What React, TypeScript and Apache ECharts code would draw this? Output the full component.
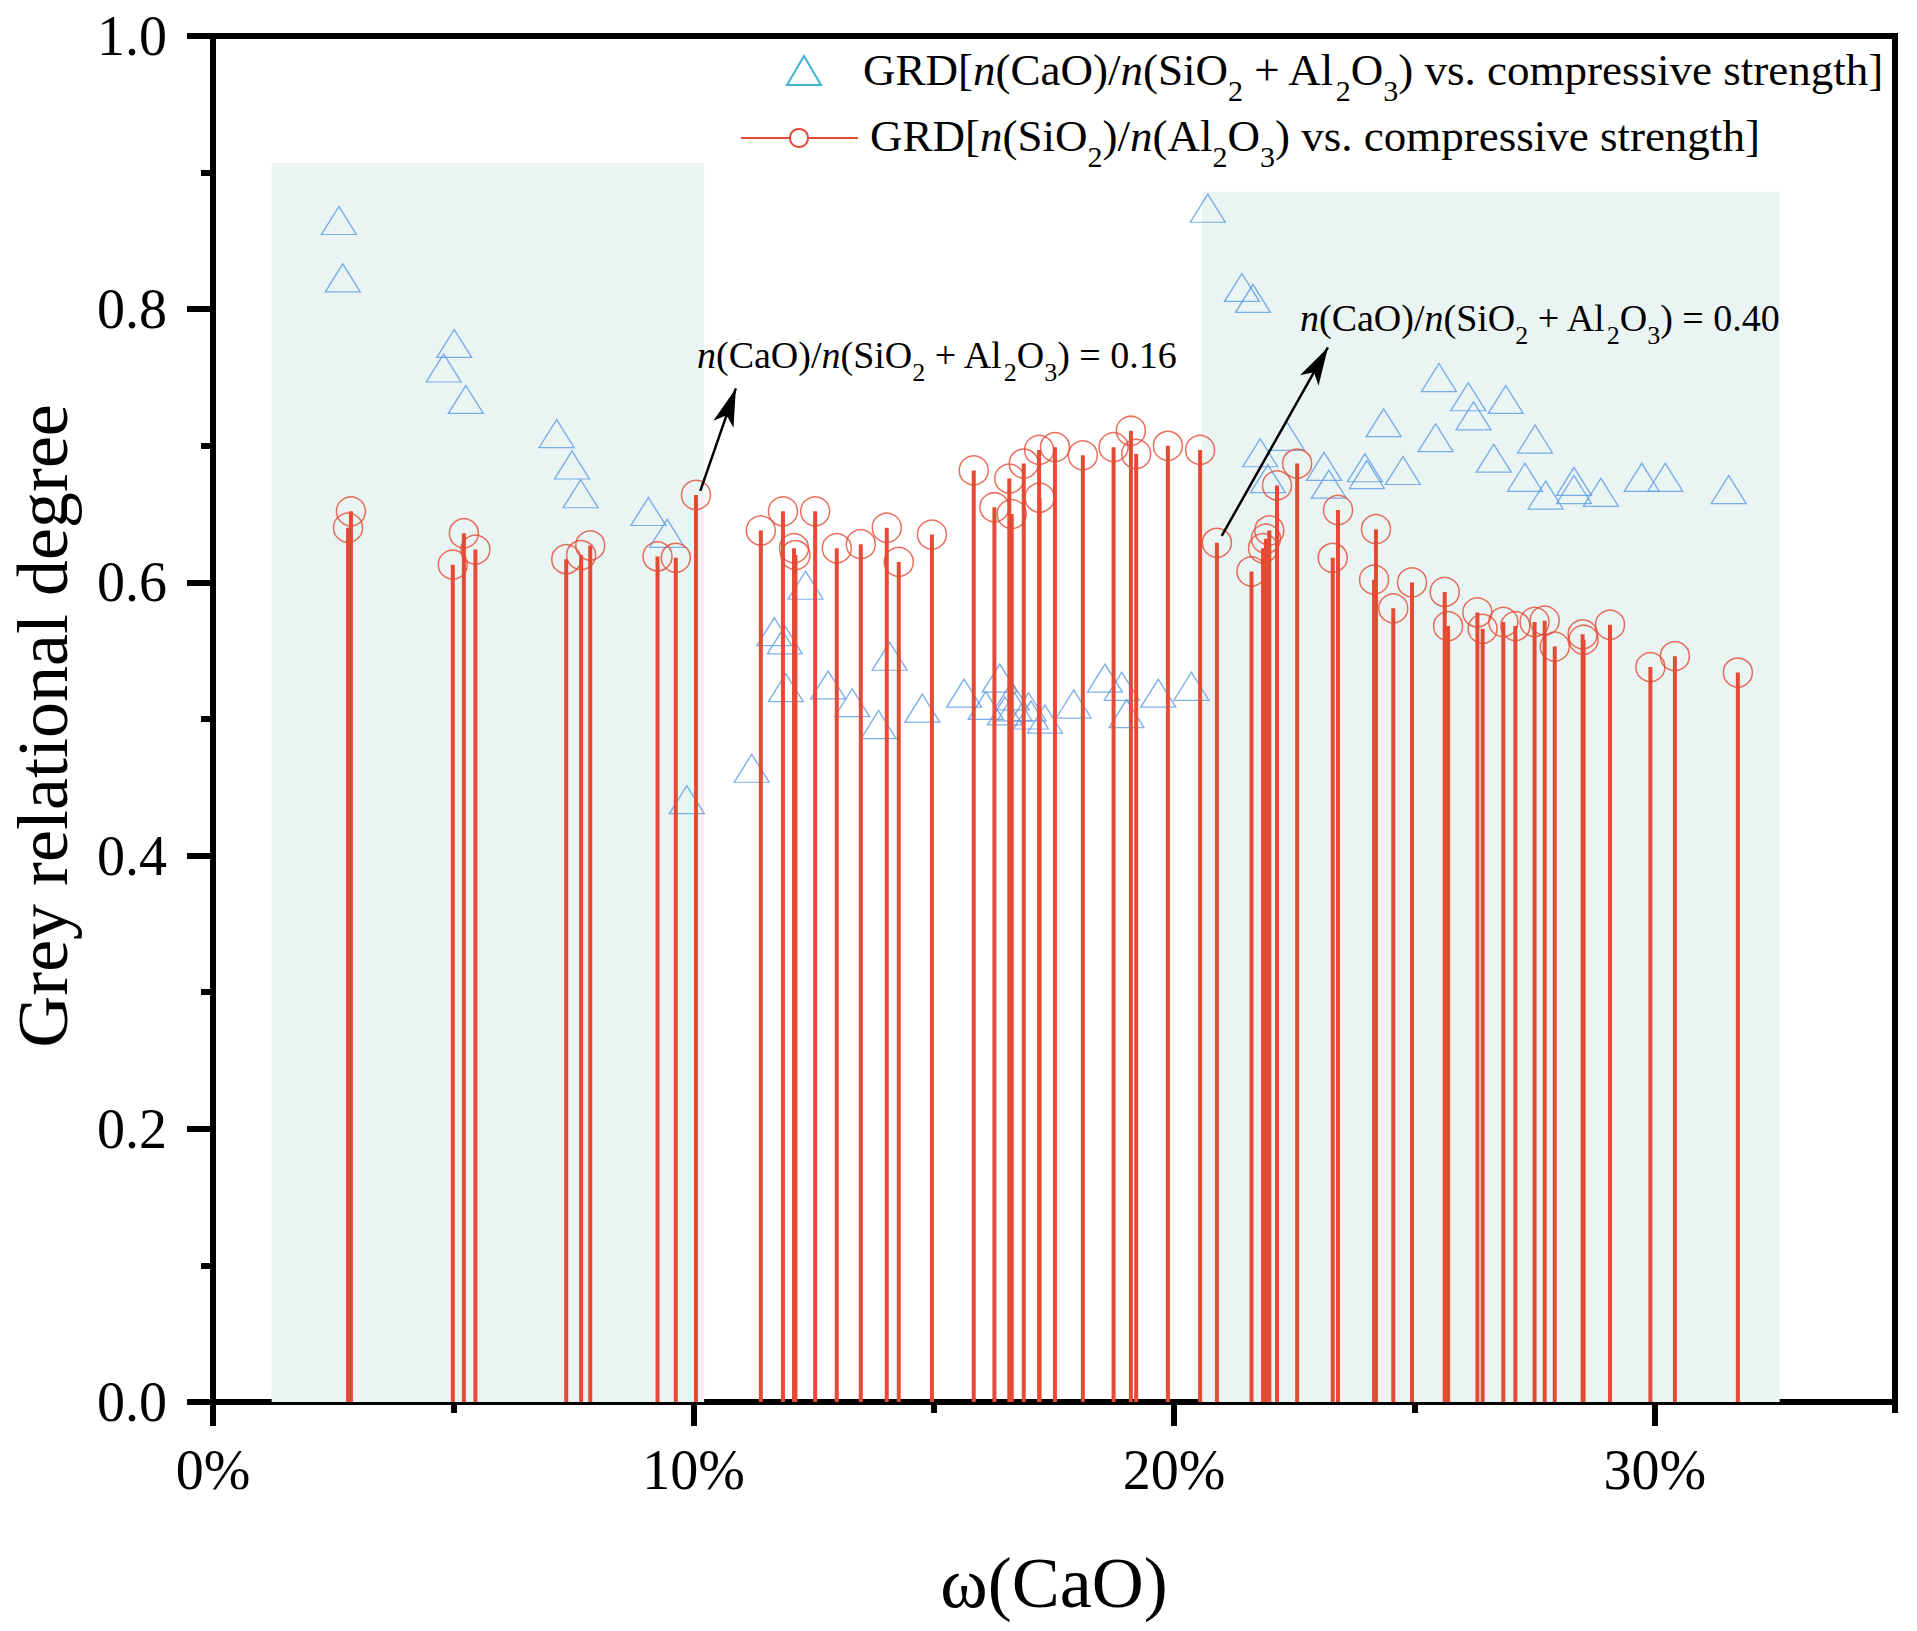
import { useEffect, useRef } from 'react';
import * as echarts from 'echarts';

const FONT = "'Liberation Serif', 'Times New Roman', serif";
const RED = '#e34b34';
const BLUE = '#5a9be6';
const CYAN = '#3fb2d6';
const SHADE = '#eaf4f2';

// ω(CaO) (%) and GRD for n(CaO)/n(SiO2 + Al2O3)
const triX = [
  2.62, 2.7, 5.02, 4.8, 5.26, 7.15, 7.47, 7.65, 9.06, 9.45, 9.86, 11.21, 12.33, 11.68, 11.9, 11.92,
  12.8, 13.3, 14.08, 13.85, 14.76, 15.63, 16.08, 16.37, 16.48, 16.62, 16.68, 16.97, 17.02, 17.31,
  17.91, 18.56, 18.91, 19.01, 19.67, 20.36, 20.7, 21.41, 21.64, 21.79, 21.95, 22.35, 23.12, 23.22,
  23.97, 24.01, 24.76, 24.36, 25.51, 26.12, 26.23, 26.9, 25.44, 27.51, 26.65, 27.3, 27.73, 28.32,
  28.32, 28.88, 29.73, 30.22, 31.54,
];
const triY = [
  0.862, 0.82, 0.772, 0.754, 0.731, 0.706, 0.683, 0.662, 0.649, 0.633, 0.438, 0.461, 0.595, 0.561,
  0.555, 0.52, 0.522, 0.509, 0.543, 0.493, 0.505, 0.516, 0.507, 0.527, 0.503, 0.514, 0.506, 0.506,
  0.5, 0.497, 0.508, 0.527, 0.521, 0.501, 0.516, 0.521, 0.871, 0.813, 0.805, 0.692, 0.673, 0.704,
  0.682, 0.669, 0.681, 0.676, 0.679, 0.714, 0.747, 0.733, 0.719, 0.731, 0.703, 0.702, 0.688, 0.674,
  0.661, 0.671, 0.665, 0.663, 0.674, 0.674, 0.665,
];

// ω(CaO) (%) and GRD for n(SiO2)/n(Al2O3)
const cirX = [
  2.87, 2.81, 4.99, 5.22, 5.46, 7.35, 7.66, 7.85, 9.25, 9.63, 10.05, 11.4, 11.86, 12.09, 12.12,
  12.53, 12.98, 13.48, 14.02, 14.27, 14.96, 15.83, 16.26, 16.57, 16.62, 16.87, 17.19, 17.2, 17.52,
  18.1, 18.74, 19.1, 19.21, 19.87, 20.54, 20.89, 21.61, 21.85, 21.91, 21.98, 22.14, 22.56, 23.3,
  23.41, 24.16, 24.2, 24.56, 24.95, 25.63, 25.7, 26.31, 26.42, 26.85, 27.1, 27.5, 27.71, 27.92,
  28.5, 28.52, 29.07, 29.91, 30.42, 31.73,
];
const cirY = [
  0.652, 0.64, 0.613, 0.636, 0.624, 0.617, 0.62, 0.627, 0.619, 0.618, 0.664, 0.638, 0.652, 0.625,
  0.62, 0.652, 0.625, 0.628, 0.64, 0.615, 0.635, 0.682, 0.655, 0.676, 0.65, 0.687, 0.697, 0.662,
  0.699, 0.693, 0.699, 0.711, 0.694, 0.7, 0.697, 0.629, 0.608, 0.625, 0.632, 0.638, 0.671, 0.687,
  0.618, 0.653, 0.602, 0.639, 0.581, 0.6, 0.593, 0.568, 0.578, 0.566, 0.571, 0.568, 0.571, 0.572,
  0.553, 0.562, 0.558, 0.569, 0.538, 0.546, 0.534,
];

const xMajor = [0, 10, 20, 30];
const xMinor = [5, 15, 25, 35];

// shaded ranges: [x from, x to, top]
const shades = [
  [1.22, 10.22, 0.907],
  [20.58, 32.6, 0.886],
];

// arrows: [x1, y1, x2 (tip), y2 (tip)]
const arrows = [
  [10.14, 0.667, 10.88, 0.742],
  [20.99, 0.634, 23.2, 0.772],
];

const xTitle = 'ω(CaO)';
const yTitle = 'Grey relational degree';
const legend1 = 'GRD[{i|n}(CaO)/{i|n}(SiO{s|2} + Al{s|2}O{s|3}) vs. compressive strength]';
const legend2 = 'GRD[{i|n}(SiO{s|2})/{i|n}(Al{s|2}O{s|3}) vs. compressive strength]';
const note1 = '{i|n}(CaO)/{i|n}(SiO{s|2} + Al{s|2}O{s|3}) = 0.16';
const note2 = '{i|n}(CaO)/{i|n}(SiO{s|2} + Al{s|2}O{s|3}) = 0.40';

function richText(text: string, x: number, y: number, size: number, sub: number, lh: number, slh: number) {
  return {
    type: 'text',
    z: 100,
    style: {
      text,
      x,
      y,
      fontSize: size,
      fontFamily: FONT,
      fill: '#000',
      lineHeight: lh,
      verticalAlign: 'middle',
      align: 'left',
      rich: {
        i: { fontSize: size, fontFamily: FONT, fontStyle: 'italic', lineHeight: lh, fill: '#000' },
        s: { fontSize: sub, fontFamily: FONT, lineHeight: slh, verticalAlign: 'bottom', fill: '#000' },
      },
    },
  };
}

export default function App() {
  const chartRef = useRef<HTMLDivElement>(null);

  useEffect(() => {
    if (!chartRef.current) return;
    const chart = echarts.init(chartRef.current, null, { renderer: 'svg' });

    const tickLine = { color: '#000', width: 6 };

    const option = {
      animation: false,
      backgroundColor: '#fff',
      textStyle: { fontFamily: FONT, color: '#000' },
      grid: {
        left: 213,
        right: 22,
        top: 36,
        bottom: 229,
        show: true,
        borderColor: '#000',
        borderWidth: 6,
      },
      xAxis: [
        {
          type: 'value',
          min: 0,
          max: 35,
          interval: 5,
          position: 'bottom',
          axisLine: { show: true, onZero: false, lineStyle: tickLine },
          axisTick: { show: true, customValues: xMajor, length: 24, lineStyle: tickLine },
          axisLabel: {
            customValues: xMajor,
            formatter: (v: number) => v + '%',
            margin: 40,
            fontSize: 56,
            color: '#000',
            fontFamily: FONT,
          },
          splitLine: { show: false },
        },
        {
          type: 'value',
          min: 0,
          max: 35,
          interval: 5,
          position: 'bottom',
          axisLine: { show: false },
          axisTick: { show: true, customValues: xMinor, length: 11, lineStyle: tickLine },
          axisLabel: { show: false },
          splitLine: { show: false },
        },
      ],
      yAxis: {
        type: 'value',
        min: 0,
        max: 1,
        interval: 0.2,
        axisLine: { show: true, onZero: false, lineStyle: tickLine },
        axisTick: { show: true, length: 26, lineStyle: tickLine },
        minorTick: { show: true, splitNumber: 2, length: 12, lineStyle: tickLine },
        axisLabel: {
          formatter: (v: number) => v.toFixed(1),
          margin: 46,
          fontSize: 56,
          color: '#000',
          fontFamily: FONT,
        },
        splitLine: { show: false },
        minorSplitLine: { show: false },
      },
      series: [
        {
          type: 'scatter',
          z: 1,
          silent: true,
          data: [],
          markArea: {
            silent: true,
            itemStyle: { color: SHADE },
            data: shades.map((s) => [{ coord: [s[0], 0] }, { coord: [s[1], s[2]] }]),
          },
        },
        {
          type: 'scatter',
          z: 2,
          symbol: 'triangle',
          symbolSize: [35, 28],
          symbolOffset: [0, -4],
          itemStyle: { color: 'transparent', borderColor: BLUE, borderWidth: 1.3 },
          data: triX.map((x, i) => [x, triY[i]]),
        },
        {
          type: 'custom',
          z: 3,
          data: cirX.map((x, i) => [x, cirY[i]]),
          renderItem: (_params: any, api: any) => {
            const top = api.coord([api.value(0), api.value(1)]);
            const base = api.coord([api.value(0), 0]);
            return {
              type: 'line',
              shape: { x1: top[0], y1: top[1], x2: base[0], y2: base[1] },
              style: { stroke: RED, lineWidth: 4 },
            };
          },
        },
        {
          type: 'scatter',
          z: 4,
          symbol: 'circle',
          symbolSize: 29,
          itemStyle: { color: 'transparent', borderColor: RED, borderWidth: 1.5 },
          data: cirX.map((x, i) => [x, cirY[i]]),
        },
        {
          type: 'scatter',
          z: 6,
          silent: true,
          data: [],
          markLine: {
            silent: true,
            animation: false,
            symbol: ['none', 'arrow'],
            symbolSize: [16, 38],
            label: { show: false },
            lineStyle: { color: '#000', width: 2.5, type: 'solid' },
            data: arrows.map((a) => [{ coord: [a[0], a[1]] }, { coord: [a[2], a[3]] }]),
          },
        },
      ],
      graphic: [
        {
          type: 'polygon',
          z: 100,
          shape: { points: [[787, 85], [804, 56], [821, 85]] },
          style: { fill: 'none', stroke: CYAN, lineWidth: 2 },
        },
        {
          type: 'line',
          z: 100,
          shape: { x1: 741, y1: 138, x2: 858, y2: 138 },
          style: { stroke: RED, lineWidth: 2 },
        },
        {
          type: 'circle',
          z: 101,
          shape: { cx: 799, cy: 138, r: 9 },
          style: { fill: '#fff', stroke: RED, lineWidth: 2 },
        },
        richText(legend1, 863, 70, 45, 30, 70, 36),
        richText(legend2, 870, 136, 45, 30, 70, 36),
        richText(note1, 697, 355, 38, 26, 60, 31),
        richText(note2, 1300, 318, 38, 26, 60, 31),
        {
          type: 'text',
          z: 100,
          x: 1054,
          y: 1583,
          style: {
            text: xTitle,
            fontSize: 72,
            fontFamily: FONT,
            fill: '#000',
            align: 'center',
            verticalAlign: 'middle',
          },
        },
        {
          type: 'text',
          z: 100,
          x: 43,
          y: 726,
          rotation: Math.PI / 2,
          style: {
            text: yTitle,
            fontSize: 72,
            fontFamily: FONT,
            fill: '#000',
            align: 'center',
            verticalAlign: 'middle',
          },
        },
      ],
    };

    chart.setOption(option as any);

    return () => {
      chart.dispose();
    };
  }, []);

  return (
    <div
      ref={chartRef}
      style={{ position: 'fixed', left: 0, top: 0, width: 1917, height: 1631, background: '#fff' }}
    />
  );
}
